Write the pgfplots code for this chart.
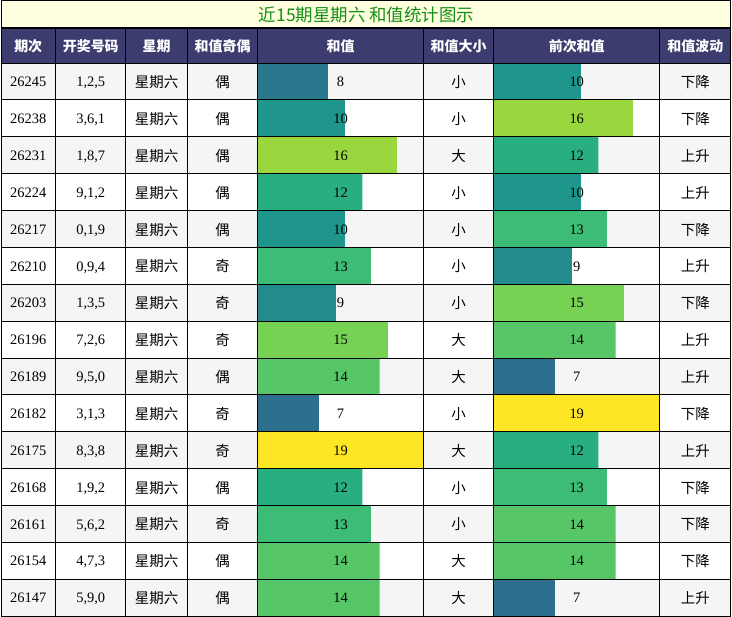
\documentclass[border=0pt]{standalone}
\usepackage{fontspec}
\setmainfont{Liberation Serif}
\newfontfamily\cjk{Noto Sans CJK SC}
\usepackage{pgfplots}
\usepackage{pgfplotstable}
\pgfplotsset{compat=1.18}

\definecolor{hdr}{HTML}{3C3C6E}
\definecolor{ttlbg}{HTML}{FFFFE0}
\definecolor{ttl}{HTML}{159015}
\definecolor{alt}{HTML}{F5F5F5}
\definecolor{c7}{HTML}{2E6F8E}
\definecolor{c8}{HTML}{2A788E}
\definecolor{c9}{HTML}{238A8D}
\definecolor{c10}{HTML}{1F968B}
\definecolor{c12}{HTML}{29AF7F}
\definecolor{c13}{HTML}{3CBC75}
\definecolor{c14}{HTML}{56C667}
\definecolor{c15}{HTML}{77D153}
\definecolor{c16}{HTML}{98D83E}
\definecolor{c19}{HTML}{FDE725}

\newcommand\numf{\fontsize{14.5}{17}\selectfont}
\newcommand\cjkf{\cjk\fontsize{14.5}{17}\selectfont}
\newcommand\hdrf{\cjk\bfseries\fontsize{14}{17}\selectfont}

% i: row, qi: draw no., hm: numbers, hz: sum, qc: previous sum
\pgfplotstableread{
i qi hm xq jo hz dx qc bd
1 26245 1,2,5 星期六 偶 8 小 10 下降
2 26238 3,6,1 星期六 偶 10 小 16 下降
3 26231 1,8,7 星期六 偶 16 大 12 上升
4 26224 9,1,2 星期六 偶 12 小 10 上升
5 26217 0,1,9 星期六 偶 10 小 13 下降
6 26210 0,9,4 星期六 奇 13 小 9 上升
7 26203 1,3,5 星期六 奇 9 小 15 下降
8 26196 7,2,6 星期六 奇 15 大 14 上升
9 26189 9,5,0 星期六 偶 14 大 7 上升
10 26182 3,1,3 星期六 奇 7 小 19 下降
11 26175 8,3,8 星期六 奇 19 大 12 上升
12 26168 1,9,2 星期六 偶 12 小 13 下降
13 26161 5,6,2 星期六 奇 13 小 14 下降
14 26154 4,7,3 星期六 偶 14 大 14 下降
15 26147 5,9,0 星期六 偶 14 大 7 上升
}\draws

\pgfplotsset{
  sheet/.style={scale only axis, width=732pt, height=619pt,
    xmin=0, xmax=732, ymin=0, ymax=619, y dir=reverse,
    hide axis, clip=false, at={(0pt,0pt)}, anchor=north west},
  barcol/.style={scale only axis, width=165.6pt, height=554.4pt,
    xmin=0, xmax=19, ymin=0.5, ymax=15.5, y dir=reverse,
    hide axis, anchor=north west, xbar, bar width=1, bar shift=0pt},
}

% bars of one colour class, taken from the table
\newcommand\barsof[2]{\addplot[fill=c#2, draw=none]
  table[x=#1, y=i, restrict x to domain=#2:#2]{\draws};}
% one text column of the table: x, column, font, text height
\newcommand\txt[4]{\addplot[draw=none, mark=none, nodes near coords,
  point meta=explicit symbolic,
  every node near coord/.append style={anchor=center, text=black, font=#3,
    text height=#4, text depth=0pt, inner sep=0pt}]
  table[x expr=#1, y expr={63.3+36.96*(\thisrow{i}-0.5)}, meta=#2]{\draws};}

\begin{document}
\begin{tikzpicture}
% backgrounds
\begin{axis}[sheet]
  \fill[ttlbg] (axis cs:0,0) rectangle (axis cs:732,27.7);
  \fill[hdr] (axis cs:0,27.7) rectangle (axis cs:732,63.3);
  \pgfplotsinvokeforeach{0,2,...,14}{
    \fill[alt] (axis cs:0,{63.3+36.96*#1}) rectangle (axis cs:732,{63.3+36.96*(#1+1)});
  }
\end{axis}

% 和值
\begin{axis}[barcol, at={(257.7pt,-63.3pt)}]
  \barsof{hz}{7}\barsof{hz}{8}\barsof{hz}{9}\barsof{hz}{10}\barsof{hz}{12}
  \barsof{hz}{13}\barsof{hz}{14}\barsof{hz}{15}\barsof{hz}{16}\barsof{hz}{19}
\end{axis}

% 前次和值
\begin{axis}[barcol, at={(494.3pt,-63.3pt)}]
  \barsof{qc}{7}\barsof{qc}{9}\barsof{qc}{10}\barsof{qc}{12}
  \barsof{qc}{13}\barsof{qc}{14}\barsof{qc}{15}\barsof{qc}{16}\barsof{qc}{19}
\end{axis}

% grid and text
\begin{axis}[sheet]
  \txt{27.3}{qi}{\numf}{10.4pt}
  \txt{90}{hm}{\numf}{10.4pt}
  \txt{156}{xq}{\cjkf}{12.2pt}
  \txt{222.2}{jo}{\cjkf}{12.2pt}
  \txt{340.5}{hz}{\numf}{10.4pt}
  \txt{458.8}{dx}{\cjkf}{12.2pt}
  \txt{577.3}{qc}{\numf}{10.4pt}
  \txt{696.2}{bd}{\cjkf}{12.2pt}

  \node[font=\cjk\fontsize{17.5}{20}\selectfont, text=ttl] at (axis cs:366.5,14.6) {近15期星期六 和值统计图示};
  \node[font=\hdrf, text=white] at (axis cs:27.3,46.5) {期次};
  \node[font=\hdrf, text=white] at (axis cs:90,46.5) {开奖号码};
  \node[font=\hdrf, text=white] at (axis cs:156,46.5) {星期};
  \node[font=\hdrf, text=white] at (axis cs:222.2,46.5) {和值奇偶};
  \node[font=\hdrf, text=white] at (axis cs:340.5,46.5) {和值};
  \node[font=\hdrf, text=white] at (axis cs:458.8,46.5) {和值大小};
  \node[font=\hdrf, text=white] at (axis cs:577.3,46.5) {前次和值};
  \node[font=\hdrf, text=white] at (axis cs:696.2,46.5) {和值波动};

  \pgfplotsinvokeforeach{0,...,15}{
    \draw[line width=1pt] (axis cs:0,{63.3+36.96*#1}) -- (axis cs:732,{63.3+36.96*#1});
  }
  \pgfplotsinvokeforeach{54.7,125.3,186.7,257.7,423.3,494.3,660.3}{
    \draw[line width=1pt] (axis cs:#1,27.7) -- (axis cs:#1,617.7);
  }
  \draw[line width=2pt] (axis cs:0,27.7) -- (axis cs:732,27.7);
  \draw[line width=1pt] (axis cs:0.5,0.5) rectangle (axis cs:731.5,617.7);
\end{axis}
\end{tikzpicture}
\end{document}
